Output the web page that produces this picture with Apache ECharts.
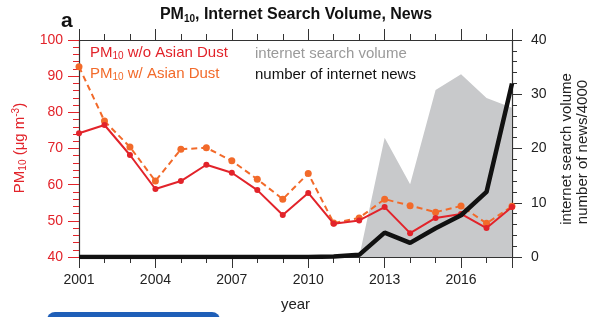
<!DOCTYPE html>
<html lang="en">
<head>
    <meta charset="UTF-8">
    <title>PM10, Internet Search Volume, News</title>
    <style>
        * { margin: 0; padding: 0; }
        body { background: #fff; }
        #chart { width: 592px; height: 317px; }
    </style>
</head>
<body>
    <div id="chart"></div>
    <script src="https://cdn.jsdelivr.net/npm/echarts@6/dist/echarts.min.js"></script>
    <script>
        // Data
        const years = [2001, 2002, 2003, 2004, 2005, 2006, 2007, 2008, 2009,
                       2010, 2011, 2012, 2013, 2014, 2015, 2016, 2017, 2018];
        const pmNoDust = [74.2, 76.5, 68.2, 58.8, 61.0, 65.5, 63.3, 58.5, 51.6,
                          57.7, 49.2, 50.1, 53.8, 46.6, 50.8, 51.9, 48.0, 53.8];
        const pmWithDust = [92.6, 77.6, 70.4, 61.0, 69.8, 70.2, 66.6, 61.5, 56.0,
                            63.1, 49.4, 50.8, 56.0, 54.2, 52.4, 54.1, 49.3, 54.0];
        const searchVolume = [null, null, null, null, null, null, null, null, null,
                              null, null, 0, 22.0, 13.4, 30.8, 33.7, 29.3, 27.5];
        const newsCount = [0, 0, 0, 0, 0, 0, 0, 0, 0,
                           0, 0.1, 0.4, 4.5, 2.6, 5.3, 7.7, 12.0, 32.0];
        const xTicks = [2001, 2004, 2007, 2010, 2013, 2016];

        const RED = '#e2232a';
        const ORANGE = '#f26a2a';
        const GRAY = '#c8c9cb';
        const FONT = 'Liberation Sans';

        const pair = arr => years.map((y, i) => [y, arr[i]]);

        const chart = echarts.init(document.getElementById('chart'));

        const xCommon = {
            type: 'value',
            min: 2001,
            max: 2018,
            interval: 3,
            splitLine: { show: false },
            axisLine: { lineStyle: { color: '#333', width: 1.2 } },
            axisTick: { length: 11, lineStyle: { color: '#333', width: 1 } },
            minorTick: { show: true, splitNumber: 3, length: 6, lineStyle: { color: '#333' } }
        };

        chart.setOption({
            animation: false,
            textStyle: { fontFamily: FONT },
            grid: { left: 79, right: 80, top: 40, bottom: 60 },
            xAxis: [
                Object.assign({}, xCommon, {
                    position: 'bottom',
                    name: 'year',
                    nameLocation: 'middle',
                    nameGap: 40,
                    nameTextStyle: { fontSize: 15, color: '#222', fontFamily: FONT },
                    axisLabel: {
                        fontSize: 14, color: '#222', margin: 16,
                        formatter: v => xTicks.includes(v) ? String(v) : ''
                    }
                }),
                Object.assign({}, xCommon, {
                    position: 'top',
                    axisLabel: { show: false }
                })
            ],
            yAxis: [
                {
                    type: 'value',
                    position: 'left',
                    min: 40, max: 100, interval: 10,
                    splitLine: { show: false },
                    axisLine: { show: true, lineStyle: { color: '#333', width: 1.2 } },
                    axisTick: { length: 11, lineStyle: { color: RED } },
                    minorTick: { show: true, splitNumber: 5, length: 6, lineStyle: { color: RED } },
                    axisLabel: { fontSize: 14, color: RED, margin: 16 }
                },
                {
                    type: 'value',
                    position: 'right',
                    min: 0, max: 40, interval: 10,
                    splitLine: { show: false },
                    axisLine: { show: true, lineStyle: { color: '#333', width: 1.2 } },
                    axisTick: { length: 10, lineStyle: { color: '#333' } },
                    minorTick: { show: true, splitNumber: 5, length: 5, lineStyle: { color: '#333' } },
                    axisLabel: { fontSize: 14, color: '#222', margin: 19 }
                }
            ],
            series: [
                {
                    name: 'internet search volume',
                    type: 'line',
                    xAxisIndex: 0, yAxisIndex: 1,
                    data: pair(searchVolume),
                    symbol: 'none',
                    lineStyle: { width: 0 },
                    areaStyle: { color: GRAY, opacity: 1 },
                    z: 1
                },
                {
                    name: 'PM10 w/ Asian Dust',
                    type: 'line',
                    xAxisIndex: 0, yAxisIndex: 0,
                    data: pair(pmWithDust),
                    symbol: 'circle',
                    symbolSize: 7,
                    itemStyle: { color: ORANGE },
                    lineStyle: { color: ORANGE, width: 2, type: [6, 4] },
                    z: 3
                },
                {
                    name: 'PM10 w/o Asian Dust',
                    type: 'line',
                    xAxisIndex: 0, yAxisIndex: 0,
                    data: pair(pmNoDust),
                    symbol: 'circle',
                    symbolSize: 6,
                    itemStyle: { color: RED },
                    lineStyle: { color: RED, width: 2 },
                    z: 4
                },
                {
                    name: 'number of internet news',
                    type: 'line',
                    xAxisIndex: 0, yAxisIndex: 1,
                    data: pair(newsCount),
                    symbol: 'none',
                    lineStyle: { color: '#111', width: 4.5 },
                    z: 5
                }
            ],
            graphic: [
                {
                    type: 'text', left: 'center', top: 7,
                    style: {
                        text: '{t|PM}{s|10}{t|, Internet Search Volume, News}',
                        rich: {
                            t: { fontSize: 16, fontWeight: 'bold', fill: '#111', fontFamily: FONT },
                            s: { fontSize: 10, fontWeight: 'bold', fill: '#111', fontFamily: FONT, padding: [8, 0, 0, 0] }
                        }
                    }
                },
                {
                    type: 'text', left: 61, top: 11,
                    style: { text: 'a', fontSize: 21, fontWeight: 'bold', fill: '#111', fontFamily: FONT }
                },
                {
                    type: 'text', left: 90, top: 45,
                    style: {
                        text: '{t|PM}{s|10}{t| w/o Asian Dust}',
                        rich: {
                            t: { fontSize: 15, fill: RED, fontFamily: FONT },
                            s: { fontSize: 10, fill: RED, fontFamily: FONT, padding: [7, 0, 0, 0] }
                        }
                    }
                },
                {
                    type: 'text', left: 90, top: 66,
                    style: {
                        text: '{t|PM}{s|10}{t| w/ Asian Dust}',
                        rich: {
                            t: { fontSize: 15, fill: ORANGE, fontFamily: FONT },
                            s: { fontSize: 10, fill: ORANGE, fontFamily: FONT, padding: [7, 0, 0, 0] }
                        }
                    }
                },
                {
                    type: 'text', left: 255, top: 46,
                    style: { text: 'internet search volume', fontSize: 15, fill: '#9a9a9a', fontFamily: FONT }
                },
                {
                    type: 'text', left: 255, top: 67,
                    style: { text: 'number of internet news', fontSize: 15, fill: '#111', fontFamily: FONT }
                },
                {
                    type: 'text', x: 20, y: 148, rotation: Math.PI / 2,
                    style: {
                        text: '{t|PM}{s|10}{t| (μg m}{p|-3}{t|)}',
                        align: 'center', verticalAlign: 'middle',
                        rich: {
                            t: { fontSize: 15, fill: RED, fontFamily: FONT },
                            s: { fontSize: 10, fill: RED, fontFamily: FONT, padding: [7, 0, 0, 0] },
                            p: { fontSize: 10, fill: RED, fontFamily: FONT, padding: [0, 0, 7, 0] }
                        }
                    }
                },
                {
                    type: 'text', x: 567, y: 149, rotation: Math.PI / 2,
                    style: {
                        text: 'internet search volume', fontSize: 15, fill: '#222', fontFamily: FONT,
                        align: 'center', verticalAlign: 'middle'
                    }
                },
                {
                    type: 'text', x: 583, y: 152, rotation: Math.PI / 2,
                    style: {
                        text: 'number of news/4000', fontSize: 15, fill: '#222', fontFamily: FONT,
                        align: 'center', verticalAlign: 'middle'
                    }
                },
                {
                    type: 'rect', shape: { x: 47, y: 312, width: 173, height: 20, r: 8 },
                    style: { fill: '#1f5fb8' }
                }
            ]
        });
    </script>
</body>
</html>
